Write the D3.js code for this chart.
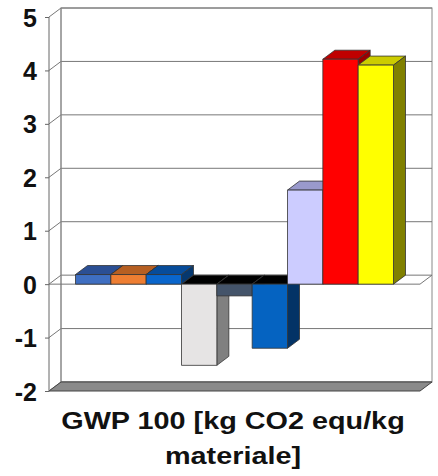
<!DOCTYPE html>
<html>
<head>
<meta charset="utf-8">
<script src="https://cdn.jsdelivr.net/npm/d3@7"></script>
<style>
  body { margin: 0; background: #fff; }
  svg text { font-family: "Liberation Sans", Arial, sans-serif; font-weight: bold; fill: #111; }
</style>
</head>
<body>
<div id="chart"></div>
<script>
// chart data
var categories = ["GWP 100"];
var series = ["s1", "s2", "s3", "s4", "s5", "s6", "s7", "s8", "s9"];
var values = [0.18, 0.18, 0.18, -1.52, -0.22, -1.2, 1.76, 4.21, 4.1];
var yTicks = [-2, -1, 0, 1, 2, 3, 4, 5];
var titleLines = ["GWP 100 [kg CO2 equ/kg", "materiale]"];

var frontColors = ["#3f6fc2", "#ee7e32", "#0a66cc", "#e6e4e4", "#44546a", "#0563c1", "#ccccff", "#ff0000", "#ffff00"];
var topColors = ["#2b4f94", "#b65f22", "#074c9a", "#000000", "#000000", "#000000", "#9999cc", "#c00000", "#cccc00"];
var sideColors = ["#22407a", "#8f4a1a", "#06386f", "#808080", "#2e3a4b", "#033366", "#8a8ab8", "#990000", "#808000"];

var width = 438, height = 476;
var x0 = 49, x1 = 420;      // front plot edges
var dx = 12, dy = -9;        // depth offset

var svg = d3.select("#chart").append("svg")
    .attr("width", width)
    .attr("height", height);

var y = d3.scaleLinear().domain([-2, 5]).range([391, 17]);

var x = d3.scaleBand()
    .domain(series)
    .range([x0, x1])
    .paddingInner(0)
    .paddingOuter(0.75);

function poly(pts) {
    return "M" + pts.map(function (p) { return p[0] + "," + p[1]; }).join("L") + "Z";
}

var grid = svg.append("g");

// back wall
grid.append("rect")
    .attr("x", x0 + dx).attr("y", y(5) + dy)
    .attr("width", x1 - x0).attr("height", y(-2) - y(5))
    .attr("fill", "#fff")
    .attr("stroke", "#888").attr("stroke-width", 1);

// side wall + gridlines
yTicks.forEach(function (t) {
    grid.append("line")
        .attr("x1", x0).attr("y1", y(t))
        .attr("x2", x0 + dx).attr("y2", y(t) + dy)
        .attr("stroke", "#777");
    grid.append("line")
        .attr("x1", x0 + dx).attr("y1", y(t) + dy)
        .attr("x2", x1 + dx).attr("y2", y(t) + dy)
        .attr("stroke", "#777");
});
grid.append("line")
    .attr("x1", x0 + dx).attr("y1", y(5) + dy)
    .attr("x2", x0 + dx).attr("y2", y(-2) + dy)
    .attr("stroke", "#888");

// floor
grid.append("path")
    .attr("d", poly([[x0, y(-2)], [x1, y(-2)], [x1 + dx, y(-2) + dy], [x0 + dx, y(-2) + dy]]))
    .attr("fill", "#8a8a8a")
    .attr("stroke", "#444").attr("stroke-width", 1);

// zero plane outline
grid.append("line")
    .attr("x1", x0).attr("y1", y(0)).attr("x2", x1).attr("y2", y(0))
    .attr("stroke", "#777");
grid.append("line")
    .attr("x1", x1).attr("y1", y(0)).attr("x2", x1 + dx).attr("y2", y(0) + dy)
    .attr("stroke", "#777");

// front axis
var axis = d3.axisLeft(y)
    .tickValues(yTicks)
    .tickFormat(function (d) { return String(d); })
    .tickSize(4)
    .tickPadding(8);

var ax = svg.append("g")
    .attr("transform", "translate(" + x0 + ",0)")
    .call(axis);
ax.select(".domain").attr("stroke", "#666").attr("d", "M0," + y(5) + "V" + y(-2));
ax.selectAll(".tick line").attr("stroke", "#666");
ax.selectAll(".tick text")
    .attr("font-size", 25)
    .attr("font-family", null)
    .attr("dy", "0.36em")
    .attr("fill", "#111");

// bars
var bars = svg.append("g");
values.forEach(function (v, i) {
    var bx0 = x(series[i]), bx1 = bx0 + x.bandwidth();
    var yt = y(Math.max(0, v)), yb = y(Math.min(0, v));
    var g = bars.append("g");
    g.append("path")
        .attr("d", poly([[bx0, yt], [bx1, yt], [bx1 + dx, yt + dy], [bx0 + dx, yt + dy]]))
        .attr("fill", topColors[i]);
    g.append("path")
        .attr("d", poly([[bx1, yt], [bx1 + dx, yt + dy], [bx1 + dx, yb + dy], [bx1, yb]]))
        .attr("fill", sideColors[i]);
    g.append("rect")
        .attr("x", bx0).attr("y", yt)
        .attr("width", x.bandwidth()).attr("height", yb - yt)
        .attr("fill", frontColors[i]);
    g.selectAll("path, rect")
        .attr("stroke", "#333").attr("stroke-width", 0.8).attr("stroke-linejoin", "round");
});

// title (text in the original is slightly stretched horizontally)
svg.append("g")
    .attr("transform", "translate(233,0) scale(1.2,1)")
    .selectAll("text")
    .data(titleLines)
    .enter()
    .append("text")
    .attr("x", 0)
    .attr("y", function (d, i) { return 429 + i * 35; })
    .attr("text-anchor", "middle")
    .attr("font-size", 24)
    .text(function (d) { return d; });
</script>
</body>
</html>
